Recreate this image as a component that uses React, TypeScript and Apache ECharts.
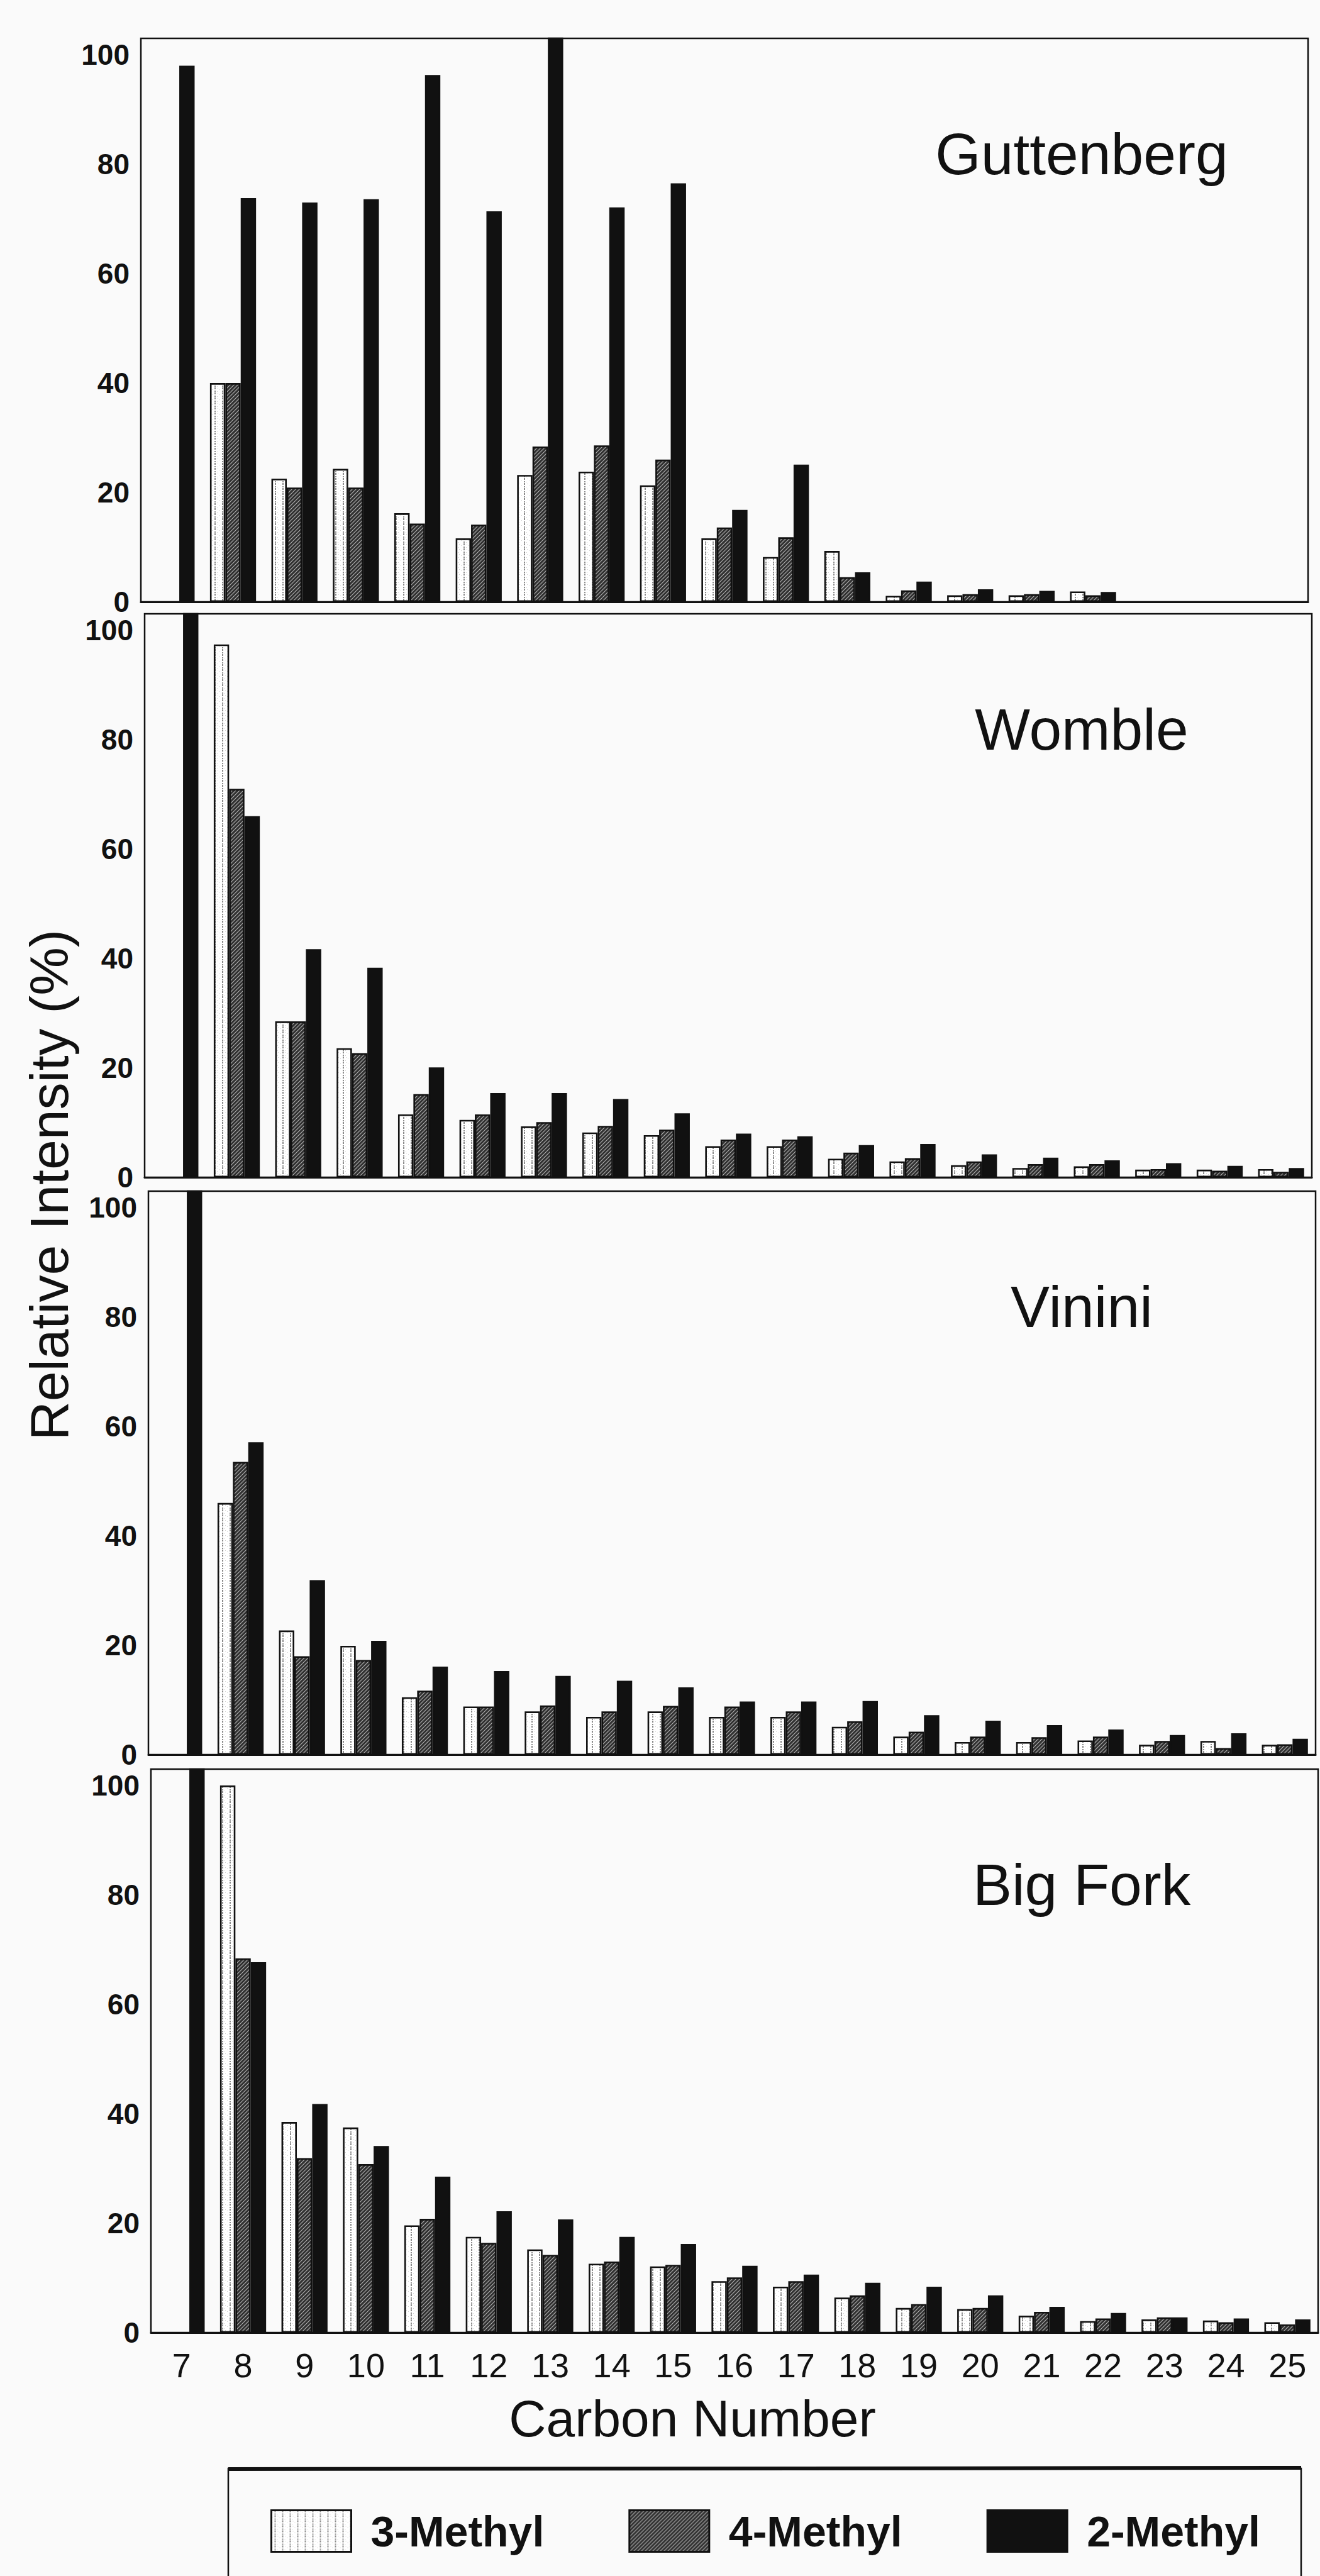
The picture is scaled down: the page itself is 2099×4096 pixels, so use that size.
import React, { useEffect, useRef } from 'react';
import * as echarts from 'echarts';

// Carbon numbers along the shared x axis
const carbonNumbers = ['7', '8', '9', '10', '11', '12', '13', '14', '15', '16', '17', '18', '19', '20', '21', '22', '23', '24', '25'];

// Relative intensity (%) per carbon number; null = not detected.
// Values above the axis top run off the frame, as printed.
const guttenberg3 = [null, 40, 22.5, 24.3, 16.2, 11.6, 23.2, 23.8, 21.3, 11.6, 8.2, 9.3, 1.1, 1.2, 1.2, 1.9, null, null, null];
const guttenberg4 = [null, 40, 20.9, 20.9, 14.3, 14.1, 28.4, 28.6, 26.0, 13.6, 11.8, 4.5, 2.1, 1.4, 1.4, 1.2, null, null, null];
const guttenberg2 = [98, 73.8, 73, 73.6, 96.3, 71.4, 104, 72.1, 76.5, 16.8, 25.1, 5.4, 3.7, 2.3, 2.0, 1.8, null, null, null];

const womble3 = [null, 97.4, 28.5, 23.6, 11.5, 10.5, 9.3, 8.2, 7.7, 5.7, 5.7, 3.4, 2.9, 2.2, 1.7, 2.0, 1.4, 1.4, 1.5];
const womble4 = [null, 71, 28.5, 22.7, 15.2, 11.5, 10.1, 9.4, 8.7, 6.9, 6.9, 4.5, 3.5, 2.9, 2.4, 2.4, 1.5, 1.2, 1.0];
const womble2 = [104, 66, 41.7, 38.3, 20.1, 15.4, 15.4, 14.3, 11.7, 8.0, 7.5, 5.9, 6.1, 4.2, 3.6, 3.1, 2.6, 2.1, 1.7];

const vinini3 = [null, 46, 22.7, 19.9, 10.5, 8.8, 7.9, 6.9, 7.9, 6.9, 6.9, 5.1, 3.3, 2.3, 2.3, 2.6, 1.8, 2.5, 1.8];
const vinini4 = [null, 53.5, 18.0, 17.3, 11.7, 8.8, 9.0, 7.9, 8.9, 8.8, 7.9, 6.1, 4.2, 3.3, 3.2, 3.3, 2.5, 1.2, 1.9];
const vinini2 = [104, 57.1, 31.9, 20.8, 16.1, 15.3, 14.4, 13.5, 12.3, 9.7, 9.7, 9.8, 7.2, 6.2, 5.4, 4.6, 3.6, 3.9, 2.9];

const bigFork3 = [null, 100, 38.5, 37.5, 19.6, 17.5, 15.2, 12.6, 12.1, 9.4, 8.4, 6.4, 4.5, 4.3, 3.1, 2.1, 2.4, 2.2, 1.9];
const bigFork4 = [null, 68.4, 31.9, 30.8, 20.8, 16.4, 14.2, 13.0, 12.4, 10.1, 9.4, 6.8, 5.2, 4.5, 3.8, 2.6, 2.8, 1.9, 1.5];
const bigFork2 = [104, 67.7, 41.8, 34.1, 28.5, 22.2, 20.7, 17.5, 16.2, 12.2, 10.6, 9.1, 8.4, 6.8, 4.7, 3.6, 2.8, 2.6, 2.4];

const siteNames = ['Guttenberg', 'Womble', 'Vinini', 'Big Fork'];
const seriesNames = ['3-Methyl', '4-Methyl', '2-Methyl'];
const siteData = [
  [guttenberg3, guttenberg4, guttenberg2],
  [womble3, womble4, womble2],
  [vinini3, vinini4, vinini2],
  [bigFork3, bigFork4, bigFork2],
];

const yMin = 0;
const yMax = 103;
const yStep = 20;

// Layout (px)
const WIDTH = 2099;
const HEIGHT = 4096;
const gridLeft = [224, 230, 236, 240];
const gridTop = [61, 976, 1894, 2813];
const gridWidth = 1856;
const gridHeight = 896;
const FONT = "'Liberation Sans', Arial, Helvetica, sans-serif";
const INK = '#111';

function makePattern(kind: 'stipple' | 'hatch') {
  const c = document.createElement('canvas');
  const ctx = c.getContext('2d')!;
  if (kind === 'stipple') {
    c.width = 12;
    c.height = 8;
    ctx.fillStyle = '#ffffff';
    ctx.fillRect(0, 0, 12, 8);
    ctx.fillStyle = '#8c8c8c';
    ctx.fillRect(5, 0, 2, 3);
    ctx.fillRect(5, 5, 2, 2);
    ctx.fillStyle = '#cfcfcf';
    ctx.fillRect(1, 3, 1, 1);
    ctx.fillRect(9, 6, 1, 1);
    ctx.fillRect(10, 1, 1, 1);
  } else {
    c.width = 6;
    c.height = 6;
    ctx.fillStyle = '#303030';
    ctx.fillRect(0, 0, 6, 6);
    ctx.strokeStyle = '#b4b4b4';
    ctx.lineWidth = 1.1;
    ctx.beginPath();
    ctx.moveTo(0, 6);
    ctx.lineTo(6, 0);
    ctx.moveTo(-1, 1);
    ctx.lineTo(1, -1);
    ctx.moveTo(5, 7);
    ctx.lineTo(7, 5);
    ctx.stroke();
  }
  return { image: c, repeat: 'repeat', imageWidth: c.width, imageHeight: c.height } as any;
}

export default function App() {
  const ref = useRef<HTMLDivElement>(null);

  useEffect(() => {
    if (!ref.current) return;
    const chart = echarts.init(ref.current, null, { renderer: 'svg' });

    const fills = [makePattern('stipple'), makePattern('hatch'), INK];

    const grids = siteNames.map((_, i) => ({
      left: gridLeft[i],
      top: gridTop[i],
      width: gridWidth,
      height: gridHeight,
      show: true,
      borderColor: INK,
      borderWidth: 2.5,
      backgroundColor: 'transparent',
    }));

    const xAxes = siteNames.map((_, i) => ({
      type: 'category',
      gridIndex: i,
      data: carbonNumbers,
      axisTick: { show: false },
      axisLine: { show: true, lineStyle: { color: INK, width: 3 } },
      axisLabel: {
        show: i === siteNames.length - 1,
        fontFamily: FONT,
        fontSize: 54,
        color: INK,
        margin: 25,
        interval: 0,
      },
      splitLine: { show: false },
    }));

    const yAxes = siteNames.map((_, i) => ({
      type: 'value',
      gridIndex: i,
      min: yMin,
      max: yMax,
      interval: yStep,
      axisLine: { show: false },
      axisTick: { show: false },
      splitLine: { show: false },
      axisLabel: {
        fontFamily: FONT,
        fontSize: 46,
        fontWeight: 'bold',
        color: INK,
        margin: 18,
        showMaxLabel: false,
        formatter: (v: number) => (v % yStep === 0 ? String(v) : ''),
      },
    }));

    const series: any[] = [];
    siteData.forEach((group, i) => {
      group.forEach((values, k) => {
        series.push({
          type: 'bar',
          name: seriesNames[k],
          xAxisIndex: i,
          yAxisIndex: i,
          data: values,
          barGap: '0%',
          barCategoryGap: '25%',
          clip: true,
          itemStyle: { color: fills[k], borderColor: INK, borderWidth: 2.6 },
          emphasis: { disabled: true },
        });
      });
    });

    const graphic: any[] = [
      {
        type: 'text',
        x: 78,
        y: 1884,
        rotation: Math.PI / 2,
        style: {
          text: 'Relative Intensity (%)',
          fontFamily: FONT,
          fontSize: 86,
          fill: INK,
          align: 'center',
          verticalAlign: 'middle',
        },
      },
      {
        type: 'text',
        x: 1101,
        y: 3845,
        style: {
          text: 'Carbon Number',
          fontFamily: FONT,
          fontSize: 82,
          fill: INK,
          align: 'center',
          verticalAlign: 'middle',
        },
      },
      {
        type: 'rect',
        shape: { x: 363, y: 3925, width: 1706, height: 400 },
        style: { fill: 'none', stroke: INK, lineWidth: 2.5 },
      },
      {
        type: 'line',
        shape: { x1: 363, y1: 3926, x2: 2069, y2: 3924 },
        style: { stroke: INK, lineWidth: 6 },
      },
    ];
    siteNames.forEach((name, i) => {
      graphic.push({
        type: 'text',
        x: 1720,
        y: gridTop[i] + 184,
        style: {
          text: name,
          fontFamily: FONT,
          fontSize: 93,
          fill: INK,
          align: 'center',
          verticalAlign: 'middle',
        },
      });
    });

    chart.setOption({
      animation: false,
      backgroundColor: '#fafafa',
      grid: grids,
      xAxis: xAxes,
      yAxis: yAxes,
      series,
      graphic,
      legend: {
        data: seriesNames,
        left: 425,
        top: 3985,
        orient: 'horizontal',
        icon: 'rect',
        itemWidth: 127,
        itemHeight: 66,
        itemGap: 134,
        selectedMode: false,
        itemStyle: { borderColor: INK, borderWidth: 3 },
        textStyle: {
          fontFamily: FONT,
          fontSize: 68,
          fontWeight: 'bold',
          color: INK,
          padding: [0, 0, 0, 26],
        },
      },
    });

    return () => chart.dispose();
  }, []);

  return (
    <div
      ref={ref}
      style={{ position: 'absolute', left: 0, top: 0, width: WIDTH, height: HEIGHT }}
    />
  );
}
